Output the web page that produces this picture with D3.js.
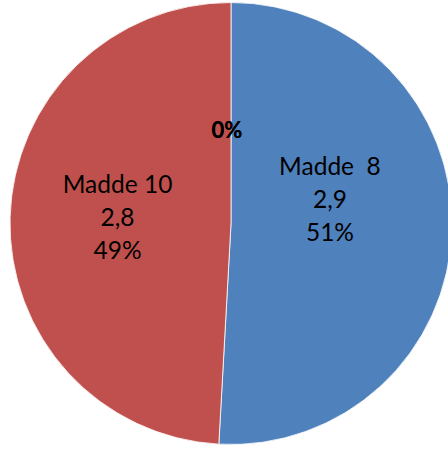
<!DOCTYPE html>
<html>
<head>
<meta charset="utf-8">
<script src="https://cdn.jsdelivr.net/npm/d3@7"></script>
<style>
  html, body { margin: 0; padding: 0; background: #fff; }
  svg { display: block; }
</style>
</head>
<body>
<script>
// Data
const categories = ["Madde 8", "Madde 10", "Madde 9", "Madde 11"];
const values = [2.9, 2.8, 0, 0];
const valueLabels = ["2,9", "2,8", "0", "0"];
const colors = ["#4F81BD", "#C0504D", "#9BBB59", "#8064A2"];

const W = 448, H = 449;
const cx = 231, cy = 223.5, R = 221;

const svg = d3.select("body").append("svg").attr("width", W).attr("height", H);
const g = svg.append("g").attr("transform", `translate(${cx},${cy})`);

const pie = d3.pie().sort(null).value(d => d.value);
const data = categories.map((c, i) => ({ cat: c, value: values[i], label: valueLabels[i], color: colors[i] }));
const arcs = pie(data);
const total = d3.sum(values);
const pct = v => Math.round(v / total * 100) + "%";

const arc = d3.arc().innerRadius(0).outerRadius(R);

g.selectAll("path.slice").data(arcs.filter(d => d.data.value > 0)).join("path")
  .attr("class", "slice")
  .attr("d", arc)
  .attr("fill", d => d.data.color)
  .attr("stroke", "#fff")
  .attr("stroke-width", 0.8);

const font = "Lato, 'Open Sans', sans-serif";
const fs = 24.5, lh = 33;

// label layout (positions only)
const labelArc = d3.arc().innerRadius(110).outerRadius(110);
const nudges = { "Madde 8": [-11, -27.5], "Madde 10": [-3.5, -3] };

arcs.filter(d => d.data.value > 0).forEach(d => {
  const [x, y] = labelArc.centroid(d);
  const [nx, ny] = nudges[d.data.cat] || [0, 0];
  const px = x + nx, py = y + ny;
  const capHalf = fs * 0.36;
  const t = g.append("text")
    .attr("text-anchor", "middle")
    .attr("font-family", font)
    .attr("font-size", fs)
    .attr("fill", "#000")
    .attr("x", px)
    .attr("y", py + capHalf - lh);
  const name = d.data.cat === "Madde 8" ? "Madde\u00a0\u00a08" : d.data.cat;
  t.append("tspan").attr("x", px).attr("dy", 0).text(name);
  t.append("tspan").attr("x", px).attr("dy", lh).text(d.data.label);
  t.append("tspan").attr("x", px).attr("dy", lh).text(pct(d.data.value));
});

// zero-value slice labels (overlapping at the top)
const zeroArc = d3.arc().innerRadius(93).outerRadius(93);
arcs.filter(d => d.data.value === 0).forEach(d => {
  const a = (d.startAngle % (2 * Math.PI));
  const [x, y] = zeroArc.centroid({ startAngle: a, endAngle: a });
  g.append("text")
    .attr("text-anchor", "middle")
    .attr("font-family", font)
    .attr("font-size", 22)
    .attr("font-weight", "bold")
    .attr("fill", "#000")
    .attr("x", x - 4)
    .attr("y", y + 22 * 0.36)
    .text(pct(d.data.value));
});
</script>
</body>
</html>
